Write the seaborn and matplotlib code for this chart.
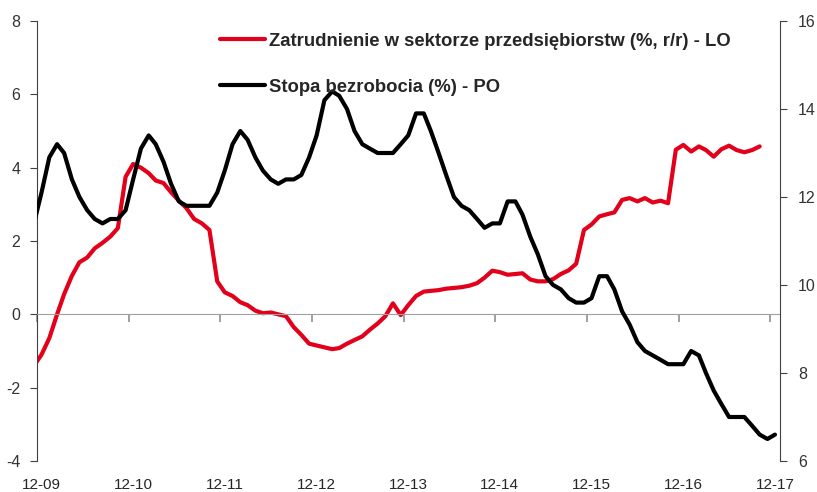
import pandas as pd
import matplotlib
matplotlib.use('Agg')
import matplotlib.pyplot as plt
import matplotlib.dates as mdates
import seaborn as sns

# monthly data, Nov 2009 onwards (first month sits just left of the axis)
months = pd.date_range('2009-11-01', '2017-12-01', freq='MS')

unemployment = [
    11.4, 12.1,
    12.9, 13.2, 13.0, 12.4, 12.0, 11.7, 11.5, 11.4, 11.5, 11.5, 11.7, 12.4,
    13.1, 13.4, 13.2, 12.8, 12.3, 11.9, 11.8, 11.8, 11.8, 11.8, 12.1, 12.6,
    13.2, 13.5, 13.3, 12.9, 12.6, 12.4, 12.3, 12.4, 12.4, 12.5, 12.9, 13.4,
    14.2, 14.4, 14.3, 14.0, 13.5, 13.2, 13.1, 13.0, 13.0, 13.0, 13.2, 13.4,
    13.9, 13.9, 13.5, 13.0, 12.5, 12.0, 11.8, 11.7, 11.5, 11.3, 11.4, 11.4,
    11.9, 11.9, 11.6, 11.1, 10.7, 10.2, 10.0, 9.9, 9.7, 9.6, 9.6, 9.7,
    10.2, 10.2, 9.9, 9.4, 9.1, 8.7, 8.5, 8.4, 8.3, 8.2, 8.2, 8.2,
    8.5, 8.4, 8.0, 7.6, 7.3, 7.0, 7.0, 7.0, 6.8, 6.6, 6.5, 6.6,
]

employment = [
    -1.4, -1.1, -0.65, 0.0, 0.55, 1.05, 1.42, 1.55, 1.8, 1.95, 2.12, 2.35, 3.75,
    4.1, 4.0, 3.85, 3.65, 3.58, 3.33, 3.1, 2.9, 2.6, 2.48, 2.3, 0.9,
    0.6, 0.5, 0.33, 0.25, 0.1, 0.03, 0.05, 0.0, -0.05, -0.35, -0.56, -0.8,
    -0.85, -0.9, -0.95, -0.92, -0.8, -0.7, -0.6, -0.42, -0.25, -0.05, 0.3, -0.02,
    0.25, 0.5, 0.62, 0.64, 0.66, 0.7, 0.72, 0.74, 0.78, 0.85, 1.0, 1.19,
    1.15, 1.08, 1.1, 1.12, 0.95, 0.9, 0.9, 0.96, 1.1, 1.2, 1.38, 2.3,
    2.45, 2.67, 2.73, 2.78, 3.12, 3.17, 3.08, 3.17, 3.05, 3.1, 3.03, 4.49,
    4.62, 4.44, 4.58, 4.48, 4.3, 4.5, 4.6, 4.48, 4.42, 4.48, 4.58,
]

label_emp = 'Zatrudnienie w sektorze przedsiębiorstw (%, r/r) - LO'
label_unemp = 'Stopa bezrobocia (%) - PO'

year_ticks = pd.date_range('2009-12-01', '2017-12-01', freq='12MS')
tick_labels = [d.strftime('%m-%y') for d in year_ticks]

RED = '#E2001A'

sns.set_style('white')
plt.rcParams['font.family'] = ['Liberation Sans', 'DejaVu Sans']
plt.rcParams['axes.unicode_minus'] = False

# points are plotted mid-month, as in the original chart
point_dates = months + pd.Timedelta(days=18)
emp = pd.DataFrame({'date': point_dates[:len(employment)], 'value': employment})
unemp = pd.DataFrame({'date': point_dates, 'value': unemployment})

fig = plt.figure(figsize=(8.17, 4.92), dpi=100)
ax = fig.add_axes([37 / 817, 31 / 492, 743 / 817, 440 / 492])
ax2 = ax.twinx()

sns.lineplot(data=emp, x='date', y='value', ax=ax, color=RED, lw=3, label=label_emp)
sns.lineplot(data=unemp, x='date', y='value', ax=ax2, color='black', lw=3, label=label_unemp)

ax.set_xlim(pd.Timestamp('2009-12-01'), pd.Timestamp('2018-01-08'))
ax.set_ylim(-4, 8)
ax.set_yticks(range(-4, 9, 2))
ax2.set_ylim(6, 16)
ax2.set_yticks(range(6, 17, 2))
for a in (ax, ax2):
    a.set_xlabel('')
    a.set_ylabel('')

# spines
ax.spines['top'].set_visible(False)
ax.spines['right'].set_visible(False)
ax.spines['left'].set_color('#404040')
ax.spines['bottom'].set_position(('data', 0))
ax.spines['bottom'].set_color('#a0a0a0')
for s in ('top', 'left', 'bottom'):
    ax2.spines[s].set_visible(False)
ax2.spines['right'].set_color('#404040')

# tick marks on the zero line, labels at the bottom
ax.set_xticks(year_ticks)
ax.tick_params(axis='x', bottom=True, direction='out', length=6, width=1.2,
               color='#909090', labelbottom=False)
sec = ax.secondary_xaxis('bottom')
sec.set_xticks(mdates.date2num(year_ticks + pd.Timedelta(days=18)))
sec.set_xticklabels(tick_labels)
sec.tick_params(bottom=False, length=0, pad=12, labelsize=11, labelcolor='#262626')
sec.spines['bottom'].set_visible(False)

ax.tick_params(axis='y', left=True, direction='out', length=5, color='#404040',
               labelsize=11.5, pad=7, labelcolor='#333333')
ax2.tick_params(axis='y', right=True, direction='out', length=5, color='#404040',
                labelsize=11.5, pad=8, labelcolor='#333333')

# legend
h1, l1 = ax.get_legend_handles_labels()
h2, l2 = ax2.get_legend_handles_labels()
ax.get_legend().remove()
ax2.get_legend().remove()
ax2.legend(h1 + h2, l1 + l2, loc='upper left', bbox_to_anchor=(0.246, 0.973),
           frameon=False, prop={'weight': 'bold', 'size': 13.3},
           handlelength=2.45, handletextpad=0.2, labelspacing=1.55,
           borderpad=0, borderaxespad=0)

fig.savefig('out.png', dpi=100)
